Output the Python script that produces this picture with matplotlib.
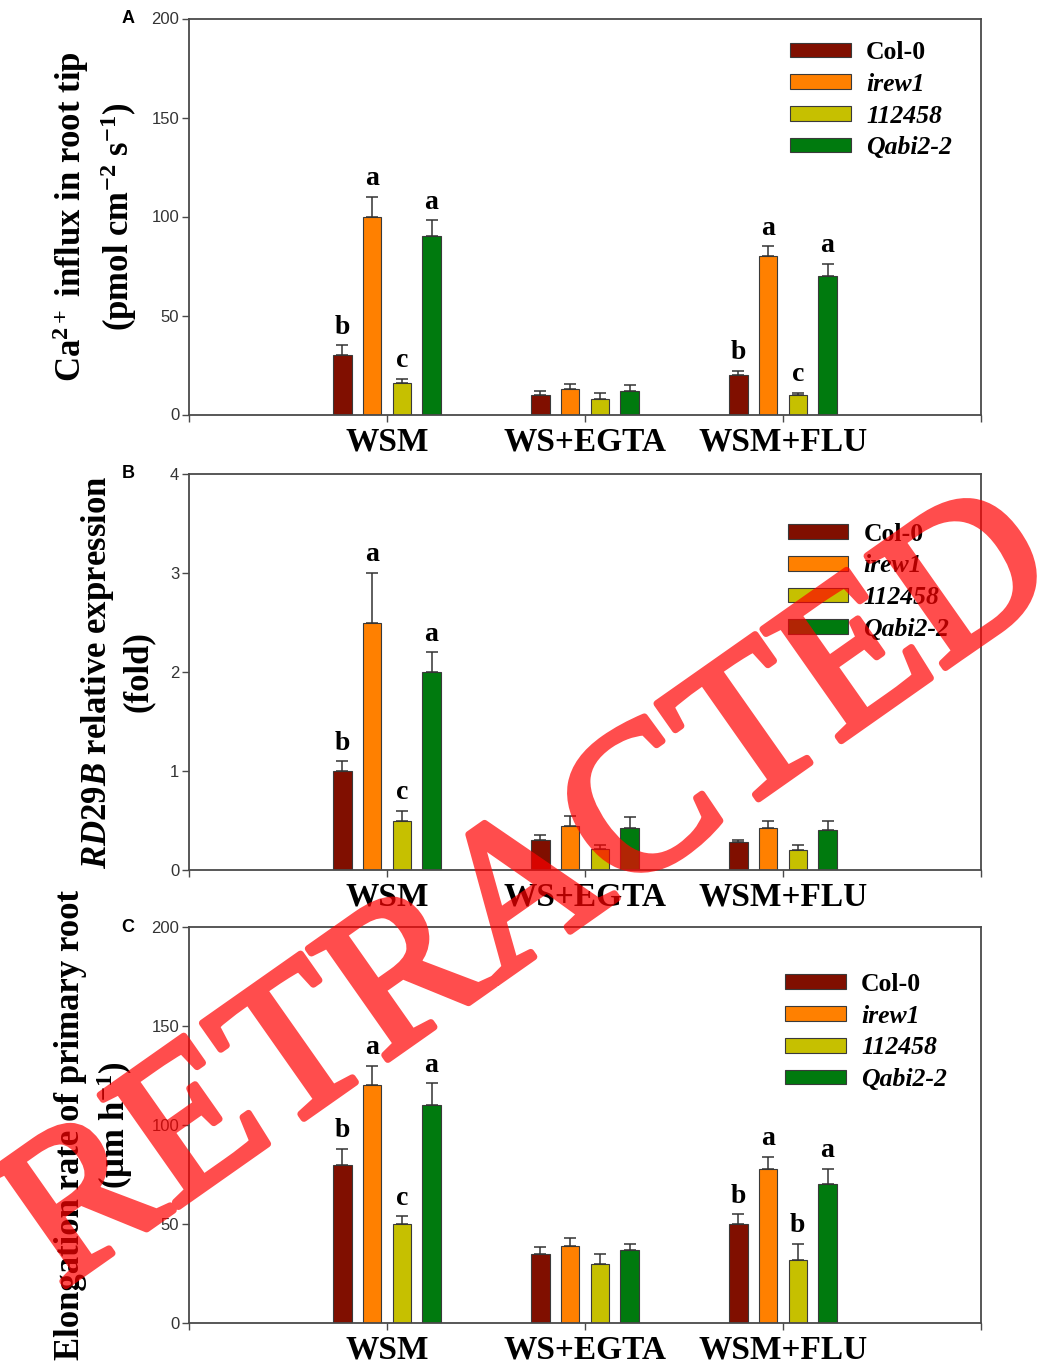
import numpy as np
import matplotlib
matplotlib.use("Agg")
import matplotlib.pyplot as plt
import matplotlib.patheffects as pe
from matplotlib.patches import Patch

plt.rcParams['font.family'] = ['Liberation Serif', 'DejaVu Serif']
plt.rcParams['mathtext.fontset'] = 'custom'
plt.rcParams['mathtext.rm'] = 'Liberation Serif:bold'
plt.rcParams['mathtext.bf'] = 'Liberation Serif:bold'
plt.rcParams['mathtext.it'] = 'Liberation Serif:bold:italic'

# data
groups = ['WSM', 'WS+EGTA', 'WSM+FLU']
genotypes = ['Col-0', 'irew1', '112458', 'Qabi2-2']
colors = ['#800f00', '#ff8000', '#c6c000', '#007a0e']

# A: Ca2+ influx
ca_mean = [[30, 10, 20], [100, 13, 80], [16, 8, 10], [90, 12, 70]]
ca_err = [[5, 2, 2], [10, 2.5, 5], [2, 3, 1], [8, 3, 6]]
ca_letters = [['b', '', 'b'], ['a', '', 'a'], ['c', '', 'c'], ['a', '', 'a']]

# B: RD29B expression
rd_mean = [[1.0, 0.30, 0.28], [2.5, 0.44, 0.42], [0.5, 0.21, 0.20], [2.0, 0.42, 0.40]]
rd_err = [[0.1, 0.05, 0.02], [0.5, 0.11, 0.08], [0.1, 0.04, 0.05], [0.2, 0.12, 0.10]]
rd_letters = [['b', '', ''], ['a', '', ''], ['c', '', ''], ['a', '', '']]

# C: elongation rate
el_mean = [[80, 35, 50], [120, 39, 78], [50, 30, 32], [110, 37, 70]]
el_err = [[8, 3.5, 5], [10, 4, 6], [4, 5, 8], [11, 3, 8]]
el_letters = [['b', '', 'b'], ['a', '', 'a'], ['c', '', 'b'], ['a', '', 'a']]

panels = [
    ('A', ca_mean, ca_err, ca_letters, 200, [0, 50, 100, 150, 200],
     'Ca$^{\\mathrm{2+}}$ influx in root tip\n(pmol cm$^{\\mathrm{-2}}$ s$^{\\mathrm{-1}}$)',
     -0.119, (0.759, 0.943)),
    ('B', rd_mean, rd_err, rd_letters, 4, [0, 1, 2, 3, 4],
     '$\\mathit{RD29B}$ relative expression\n(fold)',
     -0.091, (0.756, 0.877)),
    ('C', el_mean, el_err, el_letters, 200, [0, 50, 100, 150, 200],
     'Elongation rate of primary root\n(\u03bcm h$^{\\mathrm{-1}}$)',
     -0.119, (0.753, 0.884)),
]

W, H = 1048, 1361
fig = plt.figure(figsize=(W / 100, H / 100), dpi=100)
tops = [18.5, 474, 927]
axh = 396

x = np.arange(1, len(groups) + 1)
bw = 0.094
spine_c = '#4a4a4a'

for (tag, mean, err, letters, ymax, yt, ylab, labx, legpos), top in zip(panels, tops):
    ax = fig.add_axes([189 / W, 1 - (top + axh) / H, 792 / W, axh / H])
    for i, g in enumerate(genotypes):
        xi = x + (i - 1.5) * 0.15
        m = np.array(mean[i])
        e = np.array(err[i])
        ax.bar(xi, m, width=bw, color=colors[i], edgecolor='#3a3a3a',
               linewidth=0.8, zorder=2, label=g)
        ax.errorbar(xi, m, yerr=[np.zeros_like(e), e], fmt='none',
                    ecolor='#333333', elinewidth=1.1, capsize=4.5,
                    capthick=1.1, zorder=3)
        for xx, mm, ee, lt in zip(xi, m, e, letters[i]):
            if lt:
                ax.annotate(lt, (xx, mm + ee), xytext=(0, 4),
                            textcoords='offset points', ha='center',
                            va='bottom', fontsize=20, fontweight='bold')
    ax.set_xlim(0, 4)
    ax.set_ylim(0, ymax)
    ax.set_yticks(yt)
    ax.set_yticklabels([str(v) for v in yt], family='Liberation Sans',
                       fontsize=12, color='#333333')
    ax.set_xticks([0, 1, 2, 3, 4])
    ax.set_xticklabels([''] + groups + [''], fontsize=24, fontweight='bold')
    ax.tick_params(axis='y', direction='out', length=5, width=1, pad=2,
                   color=spine_c)
    ax.tick_params(axis='x', direction='out', length=5, width=1, pad=3.5,
                   color=spine_c)
    for s in ax.spines.values():
        s.set_color(spine_c)
        s.set_linewidth(1.3)
    ax.text(labx, 0.5, ylab, transform=ax.transAxes, rotation=90,
            ha='center', va='center', multialignment='center',
            fontsize=25, fontweight='bold', linespacing=1.25)
    ax.text(-0.077, 1.0, tag, transform=ax.transAxes, ha='center',
            va='center', fontsize=13, fontweight='bold',
            family='Liberation Sans')

    handles = [Patch(facecolor=c, edgecolor='#3a3a3a', linewidth=0.8)
               for c in colors]
    leg = ax.legend(handles, genotypes, loc='upper left',
                    bbox_to_anchor=legpos, frameon=False,
                    prop={'family': 'Liberation Serif', 'weight': 'bold',
                          'size': 18.5},
                    handlelength=2.35, handleheight=0.5, handletextpad=0.6,
                    labelspacing=0.34, borderpad=0, borderaxespad=0)
    for t in leg.get_texts()[1:]:
        t.set_style('italic')


def fade(im, dpi):
    # semi-transparent stamp, applied once to the whole text layer
    im = im.copy()
    im[..., 3] *= 0.7
    return im, 0, 0


# retraction stamp
stamp = fig.text(533 / W, 1 - 896 / H, 'RETRACTED', rotation=35.1,
                 ha='center', va='center', fontsize=150, color='#ff0000',
                 family='Liberation Serif', zorder=10,
                 path_effects=[pe.Stroke(linewidth=5, foreground='#ff0000')])
stamp.set_agg_filter(fade)

fig.savefig('out.png', dpi=100)
